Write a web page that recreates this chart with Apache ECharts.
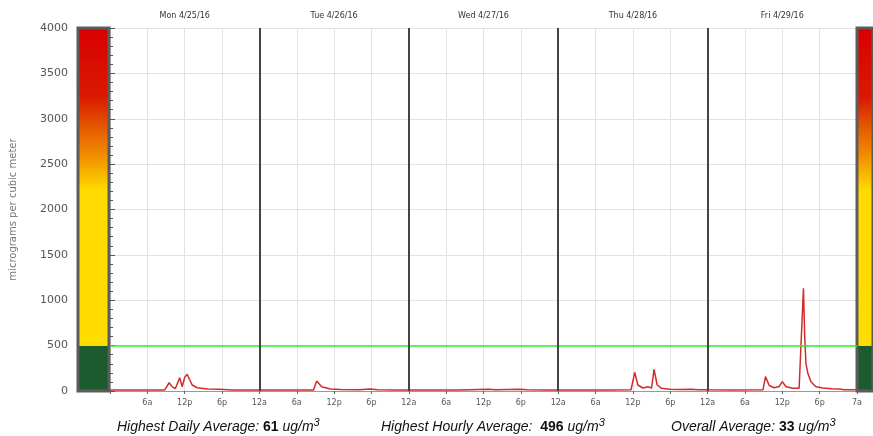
<!DOCTYPE html>
<html>
<head>
<meta charset="utf-8">
<script src="https://cdn.jsdelivr.net/npm/echarts@6/dist/echarts.min.js"></script>
<style>
html,body{margin:0;padding:0;background:#fff;}
#chart{width:873px;height:436px;}
</style>
</head>
<body>
<div id="chart"></div>
<script>
// ---- data ----
const dayLabels = ['Mon 4/25/16','Tue 4/26/16','Wed 4/27/16','Thu 4/28/16','Fri 4/29/16'];
const hourLabels = ['12a','6a','12p','6p'];
const endLabel = '7a';
// hours since Mon 4/25/16 00:00
const hours = [
  0, 3, 6, 8.8, 9.5, 10.0, 10.5, 11.2, 11.6, 12.0, 12.4, 13.2, 14.0, 15.7, 17.5, 19.6, 21, 24,
  27, 30, 32.7, 33.2, 34.0, 35.4, 37, 40, 41.8, 43, 46, 48,
  52, 56, 60.8, 62, 65.9, 67, 70, 72,
  76, 80, 83.7, 84.3, 84.8, 85.6, 86.4, 87.0, 87.4, 87.9, 88.6, 89.9, 91.5, 93.4, 94.5, 96,
  100, 104.9, 105.3, 105.9, 106.7, 107.5, 108.0, 108.6, 109.7, 110.7, 111.0, 111.4, 111.6, 111.8, 112.1, 112.6, 113.4, 114.5, 116, 117.1, 118, 120
];
const values = [
  10, 10, 10, 12, 91, 45, 28, 147, 47, 150, 184, 66, 36, 22, 20, 12, 10, 10,
  10, 10, 12, 110, 47, 22, 16, 15, 22, 14, 12, 12,
  12, 12, 18, 13, 20, 14, 12, 12,
  12, 12, 14, 206, 66, 33, 47, 33, 239, 66, 30, 19, 16, 18, 14, 13,
  12, 14, 158, 60, 36, 50, 103, 47, 30, 30, 47, 1132, 598, 305, 195, 103, 47, 33, 26, 22, 15, 14
];
const standard = 500;
const dayBoundaries = [24, 48, 72, 96];
const scaleBands = [500, 3500]; // green band, graded band
const stats = [
  {label: 'Highest Daily Average: ', value: '61'},
  {label: 'Highest Hourly Average:  ', value: '496'},
  {label: 'Overall Average: ', value: '33'}
];

const chart = echarts.init(document.getElementById('chart'));
const FONT = 'DejaVu Sans';
const gradBand = new echarts.graphic.LinearGradient(0, 0, 0, 1, [
  {offset: 0, color: '#d80000'},
  {offset: 0.22, color: '#da1a00'},
  {offset: 0.30, color: '#e25200'},
  {offset: 0.40, color: '#f18c00'},
  {offset: 0.51, color: '#ffda00'},
  {offset: 1, color: '#ffdd00'}
]);

function barGridAxes(gi) {
  return {
    x: {gridIndex: gi, type: 'category', data: ['s'], show: false},
    y: {gridIndex: gi, type: 'value', min: 0, max: 4000, show: false}
  };
}
const g1 = barGridAxes(1), g2 = barGridAxes(2);

const statTexts = stats.map((s, i) => ({
  type: 'text',
  left: [117, 381, 671][i],
  top: 417,
  style: {
    text: '{i|' + s.label + '}{b|' + s.value + '}{i| ug/m}{s|3}',
    rich: {
      i: {fontFamily: 'Liberation Sans', fontStyle: 'italic', fontSize: 14, fill: '#111', lineHeight: 20},
      b: {fontFamily: 'Liberation Sans', fontWeight: 'bold', fontSize: 14, fill: '#111', lineHeight: 20},
      s: {fontFamily: 'Liberation Sans', fontStyle: 'italic', fontSize: 11, fill: '#111', lineHeight: 14, verticalAlign: 'top'}
    }
  }
}));

chart.setOption({
  backgroundColor: '#fff',
  animation: false,
  grid: [
    {left: 109, right: 16, top: 28, bottom: 45},
    {left: 78, width: 31, top: 28, bottom: 45, show: true, z: 5, borderColor: '#5c5c5c', borderWidth: 3, backgroundColor: 'transparent'},
    {left: 857, width: 31, top: 28, bottom: 45, show: true, z: 5, borderColor: '#5c5c5c', borderWidth: 3, backgroundColor: 'transparent'}
  ],
  xAxis: [
    {
      gridIndex: 0, type: 'value', min: 0, max: 120, interval: 6,
      axisLine: {show: true, lineStyle: {color: '#999', width: 1}},
      axisTick: {show: true, length: 3, lineStyle: {color: '#666'}},
      splitLine: {show: true, lineStyle: {color: '#e2e2e2', width: 1}},
      axisLabel: {
        fontFamily: FONT, fontSize: 8, color: '#555', margin: 8, showMaxLabel: true, showMinLabel: true,
        formatter: v => v === 0 ? '' : (v === 120 ? endLabel : hourLabels[(v % 24) / 6])
      }
    },
    {
      gridIndex: 0, type: 'value', min: 0, max: 120, interval: 12, position: 'top',
      axisLine: {show: false}, axisTick: {show: false}, splitLine: {show: false},
      axisLabel: {
        fontFamily: FONT, fontSize: 8, color: '#333', margin: 8,
        formatter: v => (v % 24 === 12) ? dayLabels[(v - 12) / 24] : ''
      }
    },
    g1.x, g2.x
  ],
  yAxis: [
    {
      gridIndex: 0, type: 'value', min: 0, max: 4000, interval: 500,
      name: 'micrograms per cubic meter', nameLocation: 'middle', nameGap: 92, nameRotate: 90,
      nameTextStyle: {fontFamily: FONT, fontSize: 10, color: '#777'},
      axisLine: {show: false},
      axisTick: {show: true, inside: true, length: 5, lineStyle: {color: '#555'}},
      minorTick: {show: true, splitNumber: 5, length: 3, lineStyle: {color: '#555'}},
      splitLine: {show: true, lineStyle: {color: '#e2e2e2', width: 1}},
      axisLabel: {fontFamily: FONT, fontSize: 11, color: '#555', margin: 42, formatter: v => String(v)}
    },
    g1.y, g2.y
  ],
  series: [
    {
      type: 'bar', xAxisIndex: 2, yAxisIndex: 1, stack: 'a', barWidth: '100%',
      data: [scaleBands[0]], itemStyle: {color: '#1c5b2d'}, silent: true
    },
    {
      type: 'bar', xAxisIndex: 2, yAxisIndex: 1, stack: 'a', barWidth: '100%',
      data: [scaleBands[1]], itemStyle: {color: gradBand}, silent: true
    },
    {
      type: 'bar', xAxisIndex: 3, yAxisIndex: 2, stack: 'b', barWidth: '100%',
      data: [scaleBands[0]], itemStyle: {color: '#1c5b2d'}, silent: true
    },
    {
      type: 'bar', xAxisIndex: 3, yAxisIndex: 2, stack: 'b', barWidth: '100%',
      data: [scaleBands[1]], itemStyle: {color: gradBand}, silent: true
    },
    {
      type: 'line', xAxisIndex: 0, yAxisIndex: 0,
      data: hours.map((h, i) => [h, values[i]]),
      showSymbol: false, symbol: 'none',
      lineStyle: {color: '#d42a2a', width: 1.5},
      z: 4,
      markLine: {
        silent: true, symbol: 'none', animation: false,
        label: {show: false},
        data: [
          {yAxis: standard, lineStyle: {color: '#33ee33', width: 1.5, type: 'solid'}}
        ].concat(dayBoundaries.map(d => ({xAxis: d, lineStyle: {color: '#444', width: 2, type: 'solid'}})))
      }
    }
  ],
  graphic: statTexts
});
</script>
</body>
</html>
